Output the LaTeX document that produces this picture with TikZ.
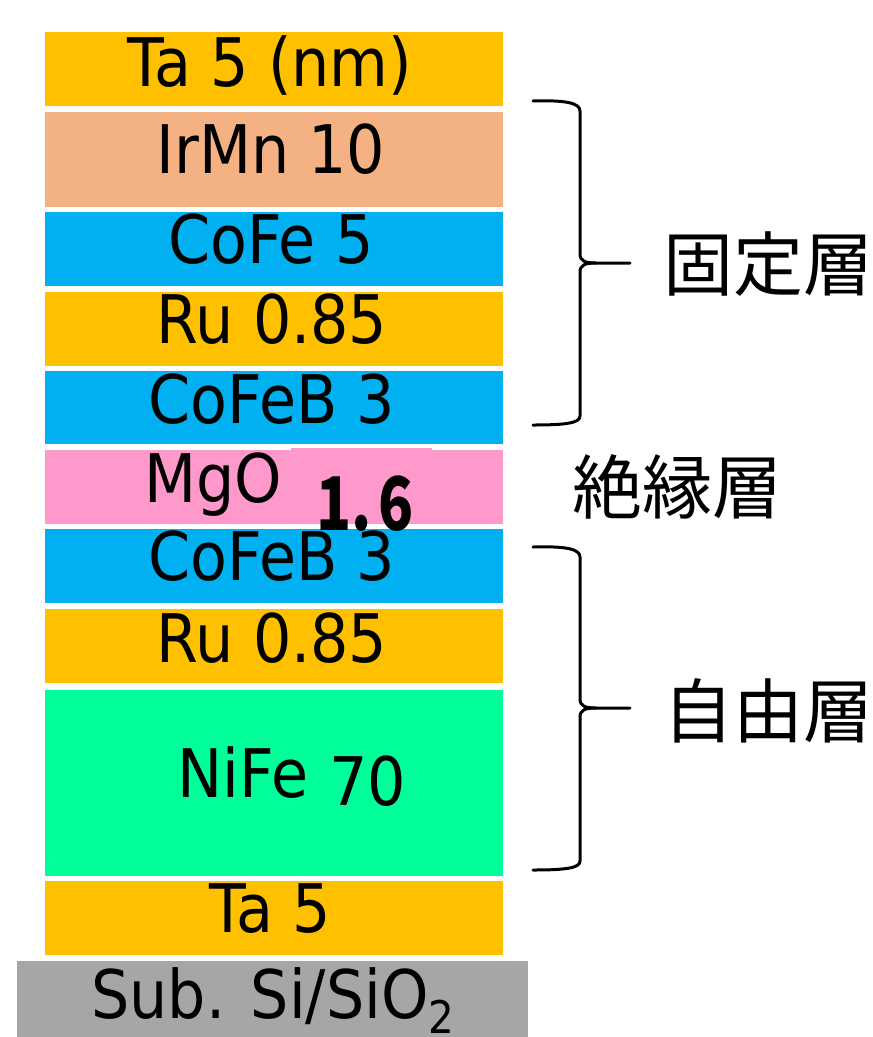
\documentclass[tikz,border=0pt]{standalone}
\usepackage{fontspec}
\newfontfamily\lay[FakeStretch=0.9]{DejaVu Sans}
\newfontfamily\cjk{Noto Sans CJK JP}
\newfontfamily\numf[FakeStretch=0.78]{Noto Sans CJK JP}
\definecolor{taC}{HTML}{FFC000}
\definecolor{irC}{HTML}{F4B183}
\definecolor{blC}{HTML}{00B0F0}
\definecolor{pkC}{HTML}{FF99CC}
\definecolor{grC}{HTML}{00FF99}
\definecolor{suC}{HTML}{A6A6A6}
\begin{document}
\begin{tikzpicture}[x=1pt,y=-1pt,
  film/.style={rectangle,draw=none,inner sep=0pt,outer sep=0pt,minimum width=458pt},
  lbl/.style={inner sep=0pt,anchor=base,font=\lay\fontsize{67}{67}\selectfont},
  jlbl/.style={inner sep=0pt,anchor=base,font=\cjk\fontsize{70}{70}\selectfont},
  brace/.style={line width=3pt,line cap=round,line join=round}]
\useasboundingbox (0,0) rectangle (873,1037);
% layers
\node[film,fill=taC,minimum height=74pt] (ta1) at (274,69) {};
\node[film,fill=irC,minimum height=95pt] (irmn) at (274,159.5) {};
\node[film,fill=blC,minimum height=74pt] (cofe) at (274,249) {};
\node[film,fill=taC,minimum height=74pt] (ru1) at (274,329) {};
\node[film,fill=blC,minimum height=73pt] (cofeb1) at (274,407.5) {};
\node[film,fill=pkC,minimum height=74pt] (mgo) at (274,487) {};
\node[film,fill=pkC,minimum width=141pt,minimum height=76pt] (mgop) at (361.5,486) {};
\node[film,fill=blC,minimum height=74pt] (cofeb2) at (274,566) {};
\node[film,fill=taC,minimum height=74pt] (ru2) at (274,646) {};
\node[film,fill=grC,minimum height=186pt] (nife) at (274,783) {};
\node[film,fill=taC,minimum height=74pt] (ta2) at (274,918) {};
\node[film,fill=suC,minimum width=511pt,minimum height=77pt] (sub) at (272.5,999.5) {};
% layer labels
\node[lbl] (ta1t) at (270,86) {Ta 5 (nm)};
\node[lbl] (irmnt) at (271,173) {IrMn 10};
\node[lbl] (cofet) at (271,263) {CoFe 5};
\node[lbl] (ru1t) at (272,343) {Ru 0.85};
\node[lbl] (cofeb1t) at (272,423) {CoFeB 3};
\node[lbl] (mgot) at (213,502) {MgO};
\node[inner sep=0pt,anchor=base,font=\numf\bfseries\fontsize{74}{74}\selectfont] (mgon) at (365,530) {1.\kern6pt6};
\node[lbl] (cofeb2t) at (272,580) {CoFeB 3};
\node[lbl] (ru2t) at (272,662) {Ru 0.85};
\node[lbl] (nifet) at (243,797) {NiFe};
\node[lbl] (nifen) at (368,805) {70};
\node[lbl] (ta2t) at (270,932) {Ta 5};
\node[lbl] (subt) at (273,1018) {Sub. Si/SiO\raisebox{-15pt}{\fontsize{45}{45}\selectfont 2}};
% braces
\draw[brace] (533,101) .. controls (566,100) and (580,103) .. (580,111)
  -- (580,254) .. controls (580,261) and (585,263) .. (596,263) -- (630,263);
\draw[brace] (596,263) .. controls (585,263) and (580,265) .. (580,272)
  -- (580,416) .. controls (580,423) and (566,425) .. (533,425);
\draw[brace] (533,547) .. controls (566,546) and (580,549) .. (580,557)
  -- (580,699) .. controls (580,706) and (585,708) .. (596,708) -- (630,708);
\draw[brace] (596,708) .. controls (585,708) and (580,710) .. (580,717)
  -- (580,861) .. controls (580,868) and (566,870) .. (533,870);
% group labels
\node[jlbl] (pinned) at (768,290) {固定層};
\node[jlbl] (insul) at (677,513) {絶縁層};
\node[jlbl] (free) at (768,737) {自由層};
\end{tikzpicture}
\end{document}
